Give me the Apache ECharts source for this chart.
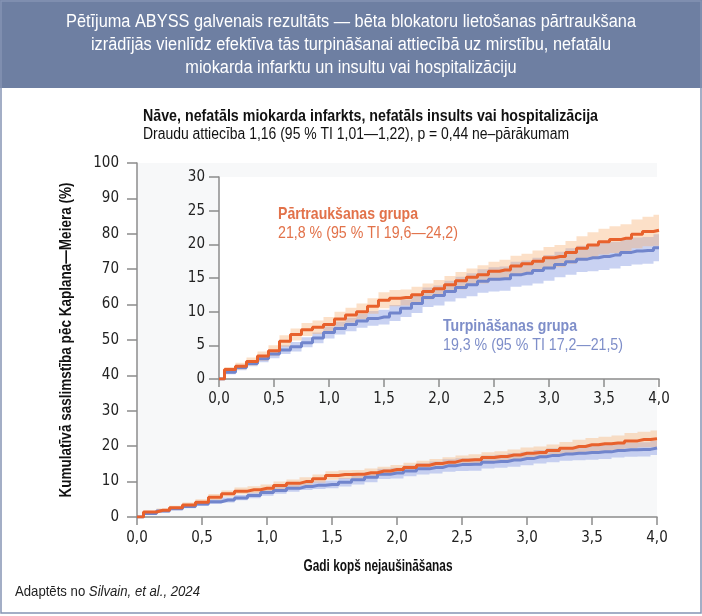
<!DOCTYPE html>
<html>
<head>
<meta charset="utf-8">
<script src="https://cdn.jsdelivr.net/npm/echarts@6/dist/echarts.min.js"></script>
<style>html,body{margin:0;padding:0;background:#fff;}#c{width:702px;height:616px;}</style>
</head>
<body>
<div id="c"></div>
<script>
// ---- data ----
var years = [0,0.1,0.2,0.3,0.4,0.5,0.6,0.7,0.8,0.9,1.0,1.1,1.2,1.3,1.4,1.5,1.6,1.7,1.8,1.9,2.0,2.1,2.2,2.3,2.4,2.5,2.6,2.7,2.8,2.9,3.0,3.1,3.2,3.3,3.4,3.5,3.6,3.7,3.8,3.9,4.0];
// Pārtraukšanas grupa (discontinuation)
var discLine = [0,1.4,1.9,2.6,3.4,4.2,5.6,6.6,7.3,7.7,8.1,8.9,9.5,10.0,10.8,11.7,12.0,12.1,12.5,13.0,13.4,14.0,14.6,15.1,15.5,16.0,16.2,16.8,17.1,17.5,18.0,18.2,18.8,19.4,19.9,20.4,20.7,20.9,21.5,21.9,22.1];
var discHigh = [0,1.8,2.4,3.2,4.1,5.0,6.5,7.5,8.3,8.7,9.2,10.0,10.6,11.2,12.0,12.9,13.2,13.3,13.7,14.2,14.7,15.3,15.9,16.4,16.9,17.4,17.7,18.3,18.6,19.1,19.6,19.9,20.5,21.2,21.8,22.3,22.7,23.0,23.7,24.1,24.4];
var discLow  = [0,1.0,1.4,2.0,2.7,3.4,4.8,5.7,6.4,6.7,7.1,7.8,8.4,8.9,9.7,10.5,10.8,10.9,11.3,11.8,12.2,12.8,13.3,13.8,14.2,14.6,14.8,15.3,15.6,16.0,16.4,16.6,17.1,17.6,18.1,18.5,18.7,18.9,19.4,19.7,19.8];
// Turpināšanas grupa (continuation)
var contLine = [0,1.0,1.7,2.3,3.0,3.7,4.3,4.8,5.4,6.1,6.9,7.5,8.1,8.6,9.0,9.2,9.8,10.5,11.2,12.1,12.4,13.0,13.6,14.0,14.5,14.8,14.9,15.5,15.7,16.1,16.5,17.0,17.4,17.8,18.0,18.2,18.4,18.8,19.0,19.1,19.5];
var contHigh = [0,1.3,2.1,2.8,3.5,4.3,5.0,5.5,6.2,6.9,7.8,8.5,9.1,9.7,10.1,10.3,11.0,11.8,12.6,13.6,13.9,14.6,15.2,15.7,16.3,16.6,16.7,17.4,17.6,18.0,18.4,18.9,19.4,19.8,20.0,20.2,20.4,20.8,21.0,21.1,21.5];
var contLow  = [0,0.7,1.3,1.9,2.5,3.1,3.7,4.1,4.7,5.3,6.0,6.6,7.1,7.6,7.9,8.1,8.6,9.2,9.8,10.7,10.9,11.5,12.0,12.3,12.8,13.0,13.1,13.7,13.9,14.2,14.6,15.1,15.5,15.9,16.0,16.2,16.4,16.8,17.0,17.1,17.5];
var mainYTicks = {min: 0, max: 100, interval: 10};
var insetYTicks = {min: 0, max: 30, interval: 5};
var xTicks = {min: 0, max: 4, interval: 0.5};

var headerLines = [
  'Pētījuma ABYSS galvenais rezultāts — bēta blokatoru lietošanas pārtraukšana',
  'izrādījās vienlīdz efektīva tās turpināšanai attiecībā uz mirstību, nefatālu',
  'miokarda infarktu un insultu vai hospitalizāciju'
];
var subTitle = 'Nāve, nefatāls miokarda infarkts, nefatāls insults vai hospitalizācija';
var subTitle2 = 'Draudu attiecība 1,16 (95 % TI 1,01—1,22), p = 0,44 ne–pārākumam';
var discName = 'Pārtraukšanas grupa', discStat = '21,8 % (95 % TI 19,6—24,2)';
var contName = 'Turpināšanas grupa', contStat = '19,3 % (95 % TI 17,2—21,5)';
var yName = 'Kumulatīvā saslimstība pēc Kaplana—Meiera (%)';
var xName = 'Gadi kopš nejaušināšanas';
var footNormal = 'Adaptēts no ', footItalic = 'Silvain, et al., 2024';

// ---- styles ----
var TXT_FONT = "'Liberation Sans', Arial, sans-serif";
var AX_FONT = "'DejaVu Sans Condensed','Liberation Sans',sans-serif";
var ORANGE = '#e8612c', BLUE = '#7185cc';
var ORANGE_BAND = 'rgba(248,178,118,0.40)', BLUE_BAND = 'rgba(165,180,234,0.60)';
var ORANGE_TXT = '#e2724a', BLUE_TXT = '#7e8ec9';

var mctx = document.createElement('canvas').getContext('2d');
function measure(text, font) { mctx.font = font; return mctx.measureText(text).width; }
function fitScale(text, font, target) { return target / measure(text, font); }

function pairs(arr) { return years.map(function (t, i) { return [t, arr[i]]; }); }
function fmtX(v) { return v.toFixed(1).replace('.', ','); }
function stepPts(vals) {
  var n = years.length, pts = [[years[0], vals[0]]];
  for (var i = 0; i < n - 1; i++) {
    var m = (years[i] + years[i + 1]) / 2;
    pts.push([m, vals[i]], [m, vals[i + 1]]);
  }
  pts.push([years[n - 1], vals[n - 1]]);
  return pts;
}
function bandSeries(gi, hi, lo, color, z) {
  return {type: 'custom', xAxisIndex: gi, yAxisIndex: gi, silent: true, z: z, data: [[0, 0]],
    renderItem: function (params, api) {
      var pts = stepPts(hi).concat(stepPts(lo).reverse()).map(function (p) { return api.coord(p); });
      return {type: 'polygon', shape: {points: pts}, style: {fill: color}};
    }};
}
function seriesFor(gi, lw) {
  var base = {type: 'line', xAxisIndex: gi, yAxisIndex: gi, step: 'middle', symbol: 'none', silent: true};
  return [
    bandSeries(gi, contHigh, contLow, BLUE_BAND, 2),
    bandSeries(gi, discHigh, discLow, ORANGE_BAND, 3),
    Object.assign({}, base, {data: pairs(contLine), lineStyle: {width: lw, color: BLUE}, z: 5}),
    Object.assign({}, base, {data: pairs(discLine), lineStyle: {width: lw, color: ORANGE}, z: 6})
  ];
}

function xAxisFor(gi, labelMargin) {
  return {type: 'value', gridIndex: gi, min: xTicks.min, max: xTicks.max, interval: xTicks.interval,
    axisLine: {show: true, lineStyle: {color: '#8c8c8c', width: 1.5}},
    axisTick: {show: true, length: 8, lineStyle: {color: '#8c8c8c', width: 1.5}},
    splitLine: {show: false},
    axisLabel: {formatter: fmtX, fontFamily: AX_FONT, fontSize: 15, color: '#222', margin: labelMargin}};
}
function yAxisFor(gi, t, labelMargin) {
  return {type: 'value', gridIndex: gi, min: t.min, max: t.max, interval: t.interval,
    axisLine: {show: true, lineStyle: {color: '#8c8c8c', width: 1.5}},
    axisTick: {show: true, length: 10, lineStyle: {color: '#8c8c8c', width: 1.5}},
    splitLine: {show: false},
    axisLabel: {fontFamily: AX_FONT, fontSize: 15, color: '#222', margin: labelMargin}};
}

function txt(s, x, y, font, fill, align, target, extra) {
  var o = {type: 'text', x: x, y: y, scaleX: fitScale(s, font, target),
    style: {text: s, fill: fill, font: font, textAlign: align, textVerticalAlign: 'middle'}, z: 11};
  return Object.assign(o, extra || {});
}

var graphics = [
  {type: 'rect', shape: {x: 0, y: 0, width: 702, height: 88}, style: {fill: '#6e7fa2'}, z: 0},
  {type: 'rect', shape: {x: 1, y: 1, width: 700, height: 612}, style: {fill: 'none', stroke: '#8594b4', lineWidth: 1.5}, z: 10}
];
var HF = '18px ' + TXT_FONT;
var hScale = fitScale(headerLines[0], HF, 570);
headerLines.forEach(function (s, i) {
  graphics.push({type: 'text', x: 351, y: 22 + i * 23, scaleX: hScale,
    style: {text: s, fill: '#fff', font: HF, textAlign: 'center', textVerticalAlign: 'middle'}, z: 11});
});
graphics.push(
  txt(subTitle, 143, 116, 'bold 17px ' + TXT_FONT, '#111', 'left', 455),
  txt(subTitle2, 143, 135, '16px ' + TXT_FONT, '#111', 'left', 426),
  txt(yName, 67, 340, 'bold 16px ' + TXT_FONT, '#111', 'center', 315, {rotation: Math.PI / 2}),
  txt(xName, 378, 567, 'bold 16px ' + TXT_FONT, '#111', 'center', 149),
  txt(discName, 278, 214, 'bold 17px ' + TXT_FONT, ORANGE_TXT, 'left', 140),
  txt(discStat, 278, 234, '16px ' + TXT_FONT, ORANGE_TXT, 'left', 180),
  txt(contName, 443, 326, 'bold 17px ' + TXT_FONT, BLUE_TXT, 'left', 134),
  txt(contStat, 443, 346, '16px ' + TXT_FONT, BLUE_TXT, 'left', 180)
);
var FF = '15px ' + TXT_FONT, FFI = 'italic 15px ' + TXT_FONT;
var fScale = 185 / (measure(footNormal, FF) + measure(footItalic, FFI));
graphics.push({type: 'text', x: 15, y: 592, scaleX: fScale, z: 11, style: {
  text: '{n|' + footNormal + '}{i|' + footItalic + '}',
  rich: {n: {font: FF, fill: '#222'}, i: {font: FFI, fill: '#222'}},
  textAlign: 'left', textVerticalAlign: 'middle'}});

var chart = echarts.init(document.getElementById('c'), null, {renderer: 'canvas'});
chart.setOption({
  animation: false,
  backgroundColor: '#fff',
  grid: [
    {left: 137, top: 163, width: 520, height: 354, show: true, backgroundColor: '#f7f8f9', borderWidth: 0},
    {left: 219, top: 177, width: 440, height: 202, show: true, backgroundColor: '#ffffff', borderWidth: 0}
  ],
  xAxis: [xAxisFor(0, 14), xAxisFor(1, 13)],
  yAxis: [yAxisFor(0, mainYTicks, 18), yAxisFor(1, insetYTicks, 14)],
  series: seriesFor(0, 3).concat(seriesFor(1, 3)),
  graphic: graphics
});
</script>
</body>
</html>
